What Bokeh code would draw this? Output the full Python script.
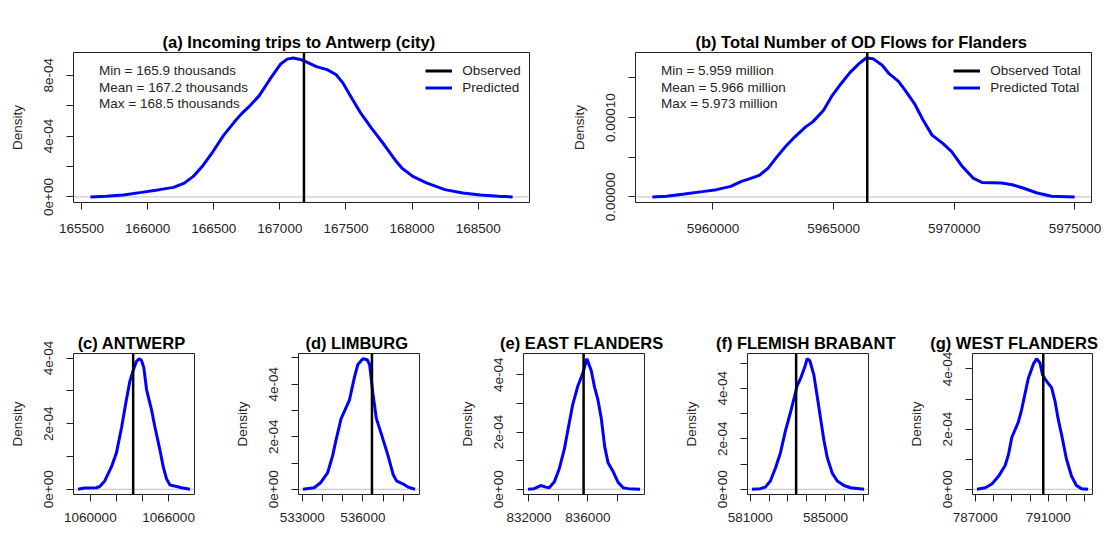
from bokeh.plotting import figure
from bokeh.models import Span, Label, Legend, LegendItem, FixedTicker, Range1d, Title
from bokeh.layouts import column, row
from bokeh.embed import file_html
from bokeh.resources import INLINE

FONT = "Liberation Sans"
TXT = "#262626"
BOX = "#222222"

# ---------------- data ----------------
# (a) Incoming trips to Antwerp (city)
a_title = "(a)  Incoming trips to Antwerp (city)"
a_x = [165567, 165684, 165818, 165953, 166088, 166196, 166277, 166345, 166412, 166493,
       166574, 166655, 166709, 166763, 166844, 166925, 167006, 167055, 167101, 167155,
       167208, 167276, 167357, 167424, 167478, 167546, 167613, 167694, 167789, 167870,
       167924, 168005, 168113, 168248, 168383, 168517, 168652, 168760]
a_y = [0.0, 4.3e-6, 1.3e-5, 3.0e-5, 4.8e-5, 6.3e-5, 9.1e-5, 1.35e-4, 2.0e-4, 2.97e-4,
       4.05e-4, 4.92e-4, 5.46e-4, 5.9e-4, 6.66e-4, 7.74e-4, 8.74e-4, 9.06e-4, 9.13e-4, 9.04e-4,
       8.85e-4, 8.57e-4, 8.37e-4, 8.05e-4, 7.48e-4, 6.46e-4, 5.49e-4, 4.51e-4, 3.43e-4, 2.45e-4,
       1.89e-4, 1.35e-4, 9.1e-5, 4.8e-5, 2.6e-5, 1.3e-5, 4.3e-6, 0.0]
a_obs = 167182
a_xticks = [165500, 166000, 166500, 167000, 167500, 168000, 168500]
a_xlabels = ["165500", "166000", "166500", "167000", "167500", "168000", "168500"]
a_yticks = [0.0, 0.0002, 0.0004, 0.0006, 0.0008]
a_ylabels = ["0e+00", "", "4e-04", "", "8e-04"]
a_stats = ["Min = 165.9 thousands", "Mean = 167.2 thousands", "Max = 168.5 thousands"]
a_legend = ["Observed", "Predicted"]

# (b) Total Number of OD Flows for Flanders
b_title = "(b)  Total Number of OD Flows for Flanders"
b_x = [5957490, 5958081, 5958819, 5959557, 5960148, 5960738, 5961181, 5961476, 5961919, 5962288,
       5962658, 5963027, 5963396, 5963839, 5964134, 5964577, 5964946, 5965315, 5965684, 5966053,
       5966349, 5966644, 5967013, 5967308, 5967678, 5967973, 5968342, 5968711, 5969080, 5969523,
       5969892, 5970335, 5970778, 5971147, 5971959, 5972402, 5972845, 5973436, 5974026, 5974986]
b_y = [0.0, 8.3e-7, 3.75e-6, 6.7e-6, 9.2e-6, 1.33e-5, 1.96e-5, 2.25e-5, 2.71e-5, 3.63e-5,
       5.08e-5, 6.42e-5, 7.58e-5, 8.83e-5, 9.46e-5, 1.09e-4, 1.28e-4, 1.43e-4, 1.57e-4, 1.68e-4,
       1.75e-4, 1.74e-4, 1.66e-4, 1.55e-4, 1.46e-4, 1.34e-4, 1.18e-4, 9.67e-5, 7.79e-5, 6.75e-5,
       5.71e-5, 3.83e-5, 2.38e-5, 1.83e-5, 1.75e-5, 1.54e-5, 1.13e-5, 5.0e-6, 8.3e-7, 0.0]
b_obs = 5966393
b_xticks = [5960000, 5965000, 5970000, 5975000]
b_xlabels = ["5960000", "5965000", "5970000", "5975000"]
b_yticks = [0.0, 0.00005, 0.0001, 0.00015]
b_ylabels = ["0.00000", "", "0.00010", ""]
b_stats = ["Min = 5.959 million", "Mean = 5.966 million", "Max = 5.973 million"]
b_legend = ["Observed Total", "Predicted Total"]

# (c) ANTWERP
c_title = "(c)  ANTWERP"
c_x = [1059051, 1059564, 1060462, 1060718, 1061103, 1061615, 1062000, 1062385, 1062718, 1063026,
       1063282, 1063538, 1063744, 1063923, 1064103, 1064308, 1064692, 1064949, 1065333, 1065590,
       1065846, 1066103, 1066615, 1067000, 1067641]
c_y = [0.0, 3.8e-6, 4.7e-6, 8.5e-6, 2.56e-5, 6.82e-5, 1.11e-4, 1.87e-4, 2.63e-4, 3.29e-4,
       3.62e-4, 3.9e-4, 3.98e-4, 3.93e-4, 3.7e-4, 3.04e-4, 2.42e-4, 1.9e-4, 1.2e-4, 6.8e-5,
       3.1e-5, 1.3e-5, 8.5e-6, 4.7e-6, 0.0]
c_obs = 1063282
c_xticks = [1060000, 1062000, 1064000, 1066000]
c_xlabels = ["1060000", "", "", "1066000"]
c_yticks = [0.0, 0.0001, 0.0002, 0.0003, 0.0004]
c_ylabels = ["0e+00", "", "2e-04", "", "4e-04"]

# (d) LIMBURG
d_title = "(d)  LIMBURG"
d_x = [533033, 533583, 533917, 534250, 534500, 534667, 534917, 535333, 535583, 535750,
       536000, 536217, 536333, 536500, 536667, 536917, 537250, 537500, 537667, 538000,
       538250, 538583]
d_y = [0.0, 5.9e-6, 2.6e-5, 6.2e-5, 1.27e-4, 1.86e-4, 2.68e-4, 3.39e-4, 4.27e-4, 4.75e-4,
       4.97e-4, 4.93e-4, 4.75e-4, 3.63e-4, 2.7e-4, 2.1e-4, 1.27e-4, 5.6e-5, 3.2e-5, 2.0e-5,
       8.0e-6, 0.0]
d_obs = 536450
d_xticks = [533000, 534000, 535000, 536000, 537000, 538000]
d_xlabels = ["533000", "", "", "536000", "", ""]
d_yticks = [0.0, 0.0001, 0.0002, 0.0003, 0.0004, 0.0005]
d_ylabels = ["0e+00", "", "2e-04", "", "4e-04", ""]

# (e) EAST FLANDERS
e_title = "(e)  EAST FLANDERS"
e_x = [831931, 832343, 832800, 833143, 833371, 833714, 834057, 834400, 834743, 834971,
       835314, 835657, 835931, 836229, 836457, 836686, 836914, 837143, 837371, 837714,
       838057, 838400, 838743, 839543]
e_y = [0.0, 2.2e-6, 1.3e-5, 7.6e-6, 5.4e-6, 2.5e-5, 7.2e-5, 1.4e-4, 2.34e-4, 2.96e-4,
       3.6e-4, 4.05e-4, 4.56e-4, 4.15e-4, 3.56e-4, 3.12e-4, 2.47e-4, 1.49e-4, 9.3e-5, 6.2e-5,
       2.4e-5, 5.4e-6, 2.2e-6, 0.0]
e_obs = 835710
e_xticks = [832000, 834000, 836000, 838000]
e_xlabels = ["832000", "", "836000", ""]
e_yticks = [0.0, 0.0001, 0.0002, 0.0003, 0.0004]
e_ylabels = ["0e+00", "", "2e-04", "", "4e-04"]

# (f) FLEMISH BRABANT
f_title = "(f)  FLEMISH BRABANT"
f_x = [581089, 581533, 581800, 582067, 582333, 582600, 582867, 583133, 583347, 583489,
       583667, 583880, 584022, 584164, 584378, 584556, 584733, 584911, 585089, 585356,
       585622, 585978, 586333, 587044]
f_y = [0.0, 2.5e-6, 8.6e-6, 3.3e-5, 8.3e-5, 1.44e-4, 2.31e-4, 3.04e-4, 3.67e-4, 4.1e-4,
       4.38e-4, 4.81e-4, 5.17e-4, 5.09e-4, 4.53e-4, 3.67e-4, 2.81e-4, 1.94e-4, 1.26e-4, 6.4e-5,
       3.3e-5, 1.5e-5, 6.2e-6, 0.0]
f_obs = 583436
f_xticks = [581000, 582000, 583000, 584000, 585000, 586000, 587000]
f_xlabels = ["581000", "", "", "", "585000", "", ""]
f_yticks = [0.0, 0.0001, 0.0002, 0.0003, 0.0004, 0.0005]
f_ylabels = ["0e+00", "", "2e-04", "", "4e-04", ""]

# (g) WEST FLANDERS
g_title = "(g)  WEST FLANDERS"
g_x = [787091, 787545, 787909, 788273, 788636, 788818, 789000, 789182, 789364, 789545,
       789727, 789909, 790182, 790364, 790545, 790691, 790909, 791182, 791364, 791545,
       791727, 792000, 792273, 792545, 792818, 793182]
g_y = [0.0, 5.2e-6, 1.76e-5, 4.3e-5, 7.9e-5, 1.15e-4, 1.72e-4, 1.98e-4, 2.24e-4, 2.66e-4,
       3.18e-4, 3.69e-4, 4.16e-4, 4.34e-4, 4.2e-4, 3.8e-4, 3.59e-4, 3.38e-4, 2.95e-4, 2.33e-4,
       1.83e-4, 1.0e-4, 4.4e-5, 1.24e-5, 2.1e-6, 0.0]
g_obs = 790727
g_xticks = [787000, 788000, 789000, 790000, 791000, 792000, 793000]
g_xlabels = ["787000", "", "", "", "791000", "", ""]
g_yticks = [0.0, 0.0001, 0.0002, 0.0003, 0.0004]
g_ylabels = ["0e+00", "", "2e-04", "", "4e-04"]


def panel(title, xs, ys, obs, xt, xl, yt, yl, w, h, bl, br, bt, bb, xstand,
          gap_standoff, title_align="center", title_offset=0):
    span = max(xs) - min(xs)
    ymax = max(ys)
    p = figure(width=w, height=h, output_backend="svg", toolbar_location=None,
               x_range=Range1d(min(xs) - 0.04 * span, max(xs) + 0.04 * span),
               y_range=Range1d(-0.04 * ymax, 1.04 * ymax),
               min_border_left=bl, min_border_right=br,
               min_border_top=bt, min_border_bottom=bb, title=" ")
    # the figure's own blank title only keeps a gap between the frame
    # and the visible panel title added above it
    p.title.text_color = "white"
    p.title.text_font = FONT
    p.title.text_font_size = "13.5px"
    p.title.standoff = gap_standoff
    p.add_layout(Title(text=title, text_font=FONT, text_font_size="16.5px",
                       text_font_style="bold", text_color="black", align=title_align,
                       standoff=4, offset=title_offset), "above")

    p.background_fill_color = "white"
    p.border_fill_color = "white"
    p.outline_line_color = BOX
    p.outline_line_width = 1
    p.outline_line_alpha = 1
    p.xgrid.visible = False
    p.ygrid.visible = False

    xax = p.below[0]
    yax = p.left[0]
    xax.ticker = FixedTicker(ticks=xt)
    xax.major_label_overrides = dict(zip(xt, xl))
    yax.ticker = FixedTicker(ticks=yt)
    yax.major_label_overrides = dict(zip(yt, yl))
    yax.major_label_orientation = "vertical"
    for ax in (xax, yax):
        ax.axis_line_color = None
        ax.major_tick_in = 0
        ax.major_tick_out = 7
        ax.major_tick_line_color = BOX
        ax.minor_tick_line_color = None
        ax.major_label_text_font = FONT
        ax.major_label_text_font_size = "13.5px"
        ax.major_label_text_color = TXT
    xax.major_label_standoff = xstand
    yax.major_label_standoff = 13
    yax.axis_label = "Density"
    yax.axis_label_text_font = FONT
    yax.axis_label_text_font_size = "13.5px"
    yax.axis_label_text_font_style = "normal"
    yax.axis_label_text_color = TXT
    yax.axis_label_standoff = 17

    p.add_layout(Span(location=0, dimension="width", line_color="#BEBEBE",
                      line_width=1, level="underlay"))
    r_pred = p.line(xs, ys, line_color="#0000FF", line_width=3)
    p.add_layout(Span(location=obs, dimension="height", line_color="black",
                      line_width=2.5))
    return p, r_pred


def add_stats_legend(p, r_pred, obs, stats, labels, tx, lx):
    for i, s in enumerate(stats):
        p.add_layout(Label(x=tx, y=132 - i * 16.7, x_units="screen", y_units="screen",
                           text=s, text_font=FONT, text_font_size="13.5px",
                           text_color=TXT, text_baseline="middle", text_align="left"))
    # one-point line: draws nothing in the plot, only provides the legend sample
    r_obs = p.line(x=[obs], y=[0.0], line_color="black", line_width=3)
    leg = Legend(items=[LegendItem(label=labels[0], renderers=[r_obs]),
                        LegendItem(label=labels[1], renderers=[r_pred])],
                 location=(lx, 106.5), padding=0, spacing=0, margin=0,
                 glyph_width=27, glyph_height=17, label_height=17, label_standoff=10,
                 label_text_font=FONT, label_text_font_size="13.5px",
                 label_text_color=TXT, border_line_color=None,
                 background_fill_alpha=0)
    p.add_layout(leg)


pa, ra = panel(a_title, a_x, a_y, a_obs, a_xticks, a_xlabels, a_yticks, a_ylabels,
               560, 264, 73, 31, 52, 62, 14, 5)
add_stats_legend(pa, ra, a_obs, a_stats, a_legend, 25.6, 352.3)

pb, rb = panel(b_title, b_x, b_y, b_obs, b_xticks, b_xlabels, b_yticks, b_ylabels,
               544, 264, 75, 13, 52, 62, 14, 5)
add_stats_legend(pb, rb, b_obs, b_stats, b_legend, 25.4, 318.2)

pc, _ = panel(c_title, c_x, c_y, c_obs, c_xticks, c_xlabels, c_yticks, c_ylabels,
              224, 264, 73, 30, 89, 34, 11, 3)
pd, _ = panel(d_title, d_x, d_y, d_obs, d_xticks, d_xlabels, d_yticks, d_ylabels,
              224, 264, 74, 29, 89, 34, 11, 3)
pe, _ = panel(e_title, e_x, e_y, e_obs, e_xticks, e_xlabels, e_yticks, e_ylabels,
              224, 264, 75, 28, 89, 34, 11, 3)
pf, _ = panel(f_title, f_x, f_y, f_obs, f_xticks, f_xlabels, f_yticks, f_ylabels,
              224, 264, 75, 28, 89, 34, 11, 3)
pg, _ = panel(g_title, g_x, g_y, g_obs, g_xticks, g_xlabels, g_yticks, g_ylabels,
              208, 264, 76, 12, 89, 34, 11, 3, title_align="right", title_offset=-10)

layout = column(row(pa, pb), row(pc, pd, pe, pf, pg))
open("out.html", "w").write(file_html(layout, INLINE))
